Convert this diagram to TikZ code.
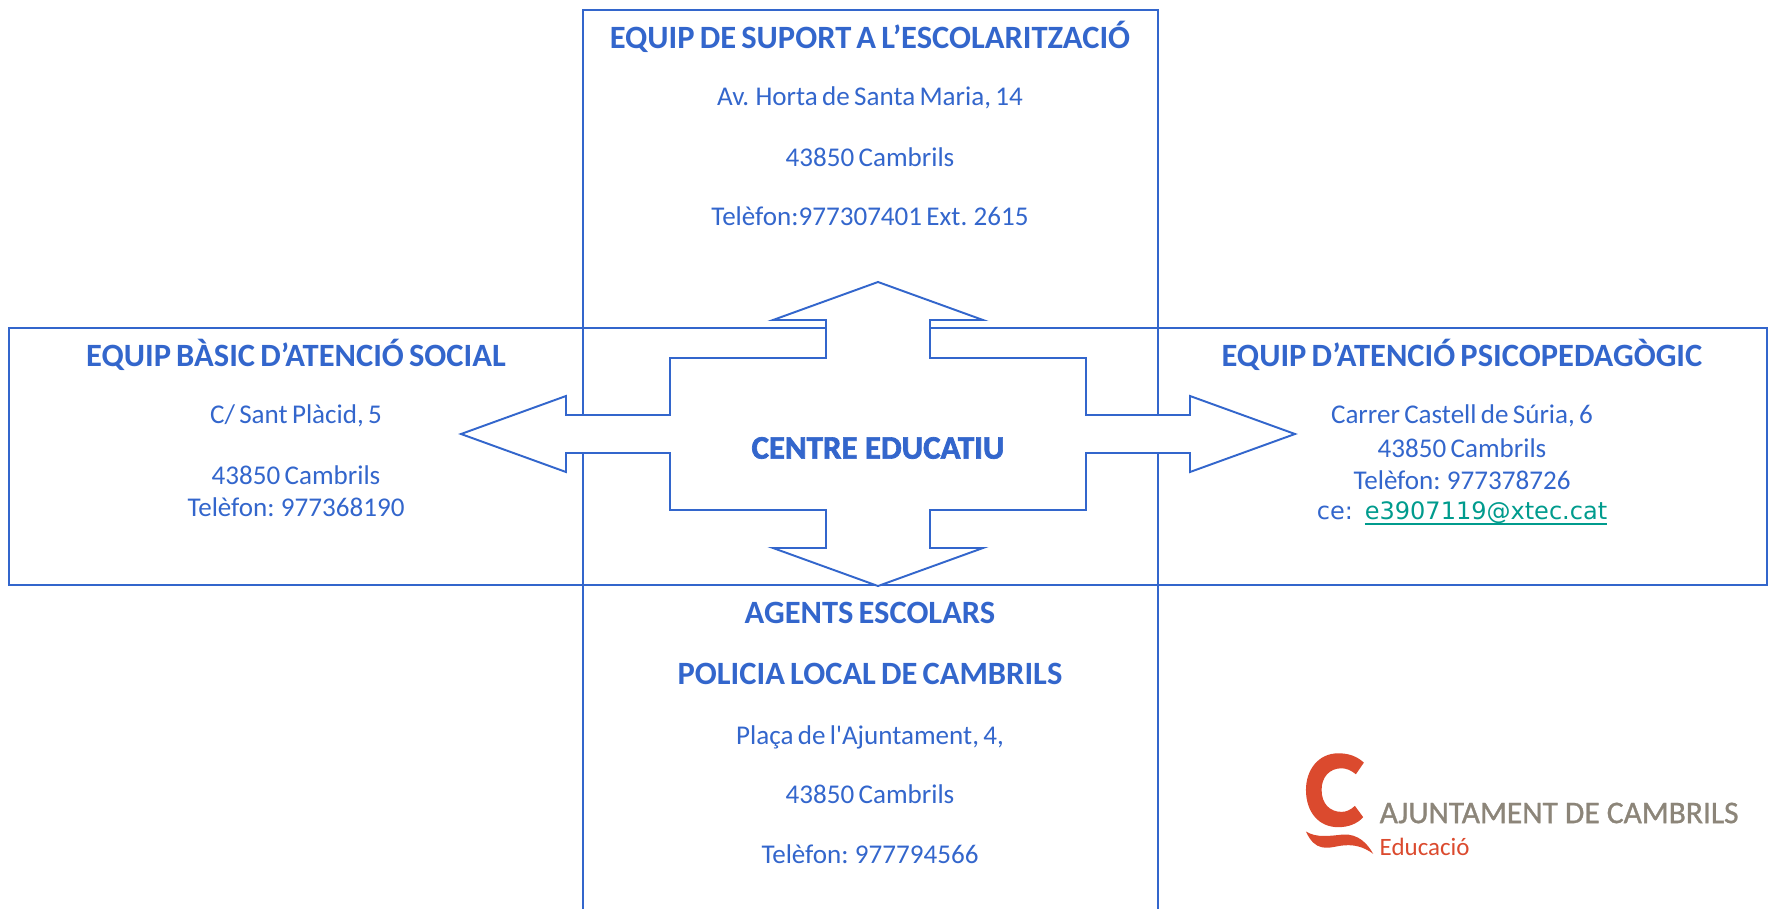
\documentclass[tikz,border=0pt]{standalone}
\usepackage{fontspec}
\setmainfont[WordSpace=0.7]{Carlito}
\newfontfamily\mailfont{DejaVu Sans}
\newfontfamily\plainfont{Carlito}
\newfontfamily\heavyfont[FakeBold=2]{Carlito Bold}
\newfontfamily\logofont[FakeBold=1]{Carlito}
\definecolor{equipblue}{HTML}{3366CC}
\definecolor{mailteal}{HTML}{009B8D}
\definecolor{logored}{HTML}{DB4A2E}
\definecolor{logogray}{HTML}{8C8579}

\begin{document}
\begin{tikzpicture}[x=0.01cm,y=-0.01cm]
\tikzset{frame/.style = {draw=equipblue,line width=0.55pt}}
\tikzset{heading/.style = {text=equipblue,font=\fontsize{9.25}{11}\selectfont\bfseries}}
\tikzset{address/.style = {text=equipblue,font=\fontsize{7.7}{9}\selectfont}}
\useasboundingbox (0,0) rectangle (1769,909);
\draw[frame] (583,10) rectangle (1158,915);
\draw[frame] (9,328) rectangle (1767,585);
\draw[frame,fill=white,line join=miter] (878,282) -- (983,320) -- (930,320) -- (930,358) -- (1086,358) -- (1086,415) -- (1190,415) -- (1190,396) -- (1295,434) -- (1190,472) -- (1190,453) -- (1086,453) -- (1086,510) -- (930,510) -- (930,548) -- (983,548) -- (878,586) -- (773,548) -- (826,548) -- (826,510) -- (670,510) -- (670,453) -- (566,453) -- (566,472) -- (461,434) -- (566,396) -- (566,415) -- (670,415) -- (670,358) -- (826,358) -- (826,320) -- (773,320) -- cycle;
% top
\node[heading] (suport) at (870,37) {EQUIP DE SUPORT A L’ESCOLARITZACIÓ};
\node[address] (suporta) at (870,98) {Av. Horta de Santa Maria, 14};
\node[address] (suportb) at (870,157) {43850 Cambrils};
\node[address] (suportc) at (870,216) {Telèfon:977307401 Ext. 2615};
% left
\node[heading] (social) at (296,355) {EQUIP BÀSIC D’ATENCIÓ SOCIAL};
\node[address] (sociala) at (296,416) {C/ Sant Plàcid, 5};
\node[address] (socialb) at (296,475) {43850 Cambrils};
\node[address] (socialc) at (296,507) {Telèfon: 977368190};
% right
\node[heading] (psico) at (1462,355) {EQUIP D’ATENCIÓ PSICOPEDAGÒGIC};
\node[address] (psicoa) at (1462,416) {Carrer Castell de Súria, 6};
\node[address] (psicob) at (1462,448) {43850 Cambrils};
\node[address] (psicoc) at (1462,480) {Telèfon: 977378726};
\node[address,anchor=base] (psicod) at (1462,519) {{\mailfont\fontsize{6.83}{9}\selectfont ce:\hspace{0.5em}\textcolor{mailteal}{\underline{\smash{e3907119@xtec.cat}}}}};
% centre
\node[heading,font=\heavyfont\fontsize{9.35}{11}\selectfont] (centre) at (878,448) {CENTRE EDUCATIU};
% bottom
\node[heading] (agents) at (870,613) {AGENTS ESCOLARS};
\node[heading] (policia) at (870,674) {POLICIA LOCAL DE CAMBRILS};
\node[address] (policiaa) at (870,737) {Plaça de l{\plainfont '}Ajuntament, 4,};
\node[address] (policiab) at (870,794) {43850 Cambrils};
\node[address] (policiac) at (870,854) {Telèfon: 977794566};
% logo
\begin{scope}[shift={(1280,730)},x=0.00333cm,y=-0.00333cm]
\fill[logored] (252,98) .. controls (230,78) and (205,70) .. (175,70) .. controls (115,70) and (78,120) .. (78,180) .. controls (78,245) and (115,292) .. (175,292) .. controls (205,292) and (232,282) .. (250,262) -- (225,228) .. controls (212,240) and (200,246) .. (185,246) .. controls (150,246) and (125,222) .. (125,180) .. controls (125,140) and (150,115) .. (185,115) .. controls (200,115) and (215,122) .. (228,133) -- cycle;
\fill[logored] (78,305) .. controls (110,325) and (150,318) .. (190,314) .. controls (235,312) and (262,340) .. (280,372) .. controls (250,350) and (220,342) .. (180,348) .. controls (140,356) and (105,365) .. (78,305) -- cycle;
\end{scope}
\node[text=logogray,font=\logofont\fontsize{8.95}{10}\selectfont,anchor=west,inner sep=0pt] (ajunt) at (1379,813) {AJUNTAMENT DE CAMBRILS};
\node[text=logored,font=\fontsize{7.1}{8}\selectfont,anchor=west,inner sep=0pt] (educa) at (1379,847) {Educació};
\end{tikzpicture}
\end{document}
